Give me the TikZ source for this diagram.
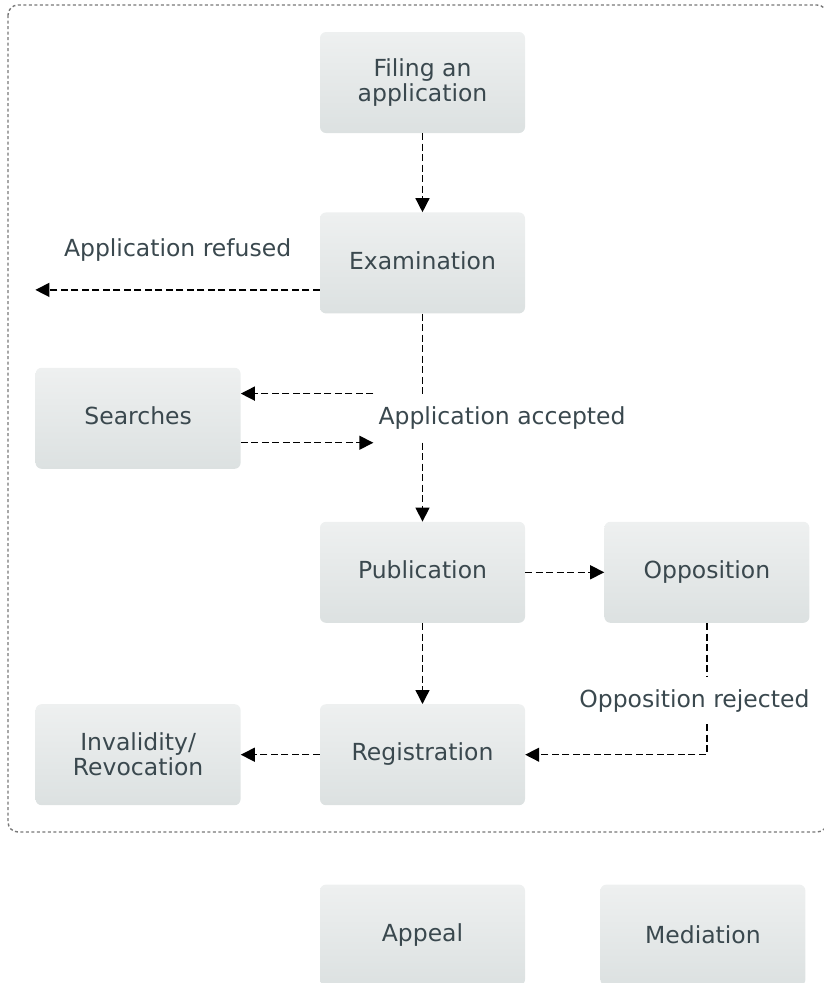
\documentclass[tikz,border=0pt]{standalone}
\usepackage{fontspec}
\setmainfont{DejaVu Sans}
\usepackage{tikz}
\usepackage{xcolor}
\usetikzlibrary{positioning}
\usetikzlibrary{arrows.meta}
\definecolor{stagetop}{RGB}{238, 240, 240}
\definecolor{stagebottom}{RGB}{220, 225, 225}
\definecolor{stagetext}{RGB}{58, 72, 78}
\definecolor{boundarycolor}{RGB}{120, 120, 120}
\tikzstyle{stage} = [
	top color=stagetop,
	bottom color=stagebottom,
	rounded corners=6pt,
	minimum width=205pt,
	minimum height=101pt,
	align=center,
	text=stagetext,
	font=\fontsize{23.5}{25}\selectfont
]
\tikzstyle{oneline} = [
	text height=18pt,
	text depth=5.5pt
]
\tikzstyle{note} = [
	text=stagetext,
	inner xsep=5pt,
	inner ysep=0pt,
	font=\fontsize{23.5}{25}\selectfont
]
\tikzstyle{flowline} = [
	line width=1.4pt,
	dash pattern=on 7pt off 3.5pt
]
\tikzstyle{flow} = [
	flowline,
	-{Triangle[length=14pt, width=14pt]}
]
\tikzstyle{boundary} = [
	draw=boundarycolor,
	line width=1.4pt,
	dash pattern=on 3pt off 2.5pt,
	rounded corners=10pt
]

\begin{document}
\begin{tikzpicture}[node distance=79pt and 79pt]
	\useasboundingbox (0,0) rectangle (823pt,-983pt);

	%
	% Boundary
	\draw[boundary] (8pt,-5pt) rectangle (827pt,-832pt);

	%
	% Stages
	\node[stage] at (422.5pt,-82.5pt) (filing) {Filing an\\application};
	\node[stage, oneline, below=of filing] (examination) {Examination};
	\node[stage, oneline, below left=54pt and 79pt of examination] (searches) {Searches};
	\node[stage, oneline, below=208pt of examination] (publication) {Publication};
	\node[stage, oneline, right=of publication] (opposition) {Opposition};
	\node[stage, oneline, below=81pt of publication] (registration) {Registration};
	\node[stage, left=of registration] (invalidity) {Invalidity/\\Revocation};
	\node[stage, below=of registration] (appeal) {Appeal};
	\node[stage, right=75pt of appeal] (mediation) {Mediation};

	%
	% Outcomes
	\node[note, inner ysep=13pt, below=80pt of examination, xshift=79.5pt] (accepted) {Application accepted};
	\node[note, inner xsep=0pt, inner ysep=12pt, below=54pt of opposition.south east, anchor=north east] (rejected) {Opposition rejected};

	\coordinate (refusedstart) at ([yshift=-27pt]examination.west);
	\coordinate (refusedend) at (refusedstart -| searches.west);

	%
	% Arrows
	\draw[flow] (filing) -- (examination);
	\draw[flow] (refusedstart) -- (refusedend)
		node[note, midway, above=28pt, inner sep=0pt] (refused) {Application refused};

	% Examination to Publication, via Searches
	\draw[flowline] (examination.south) -- (examination.south |- accepted.north);
	\draw[flow] (examination.south |- accepted.south) -- (publication);
	\draw[flow] (accepted.north west) -- (accepted.north west -| searches.east);
	\draw[flow] (searches.east |- accepted.south west) -- (accepted.south west);

	% Publication onwards
	\draw[flow] (publication) -- (opposition);
	\draw[flow] (publication) -- (registration);
	\draw[flowline] (opposition.south) -- (opposition.south |- rejected.north);
	\draw[flow] (opposition.south |- rejected.south) |- (registration);
	\draw[flow] (registration) -- (invalidity);

\end{tikzpicture}
\end{document}
